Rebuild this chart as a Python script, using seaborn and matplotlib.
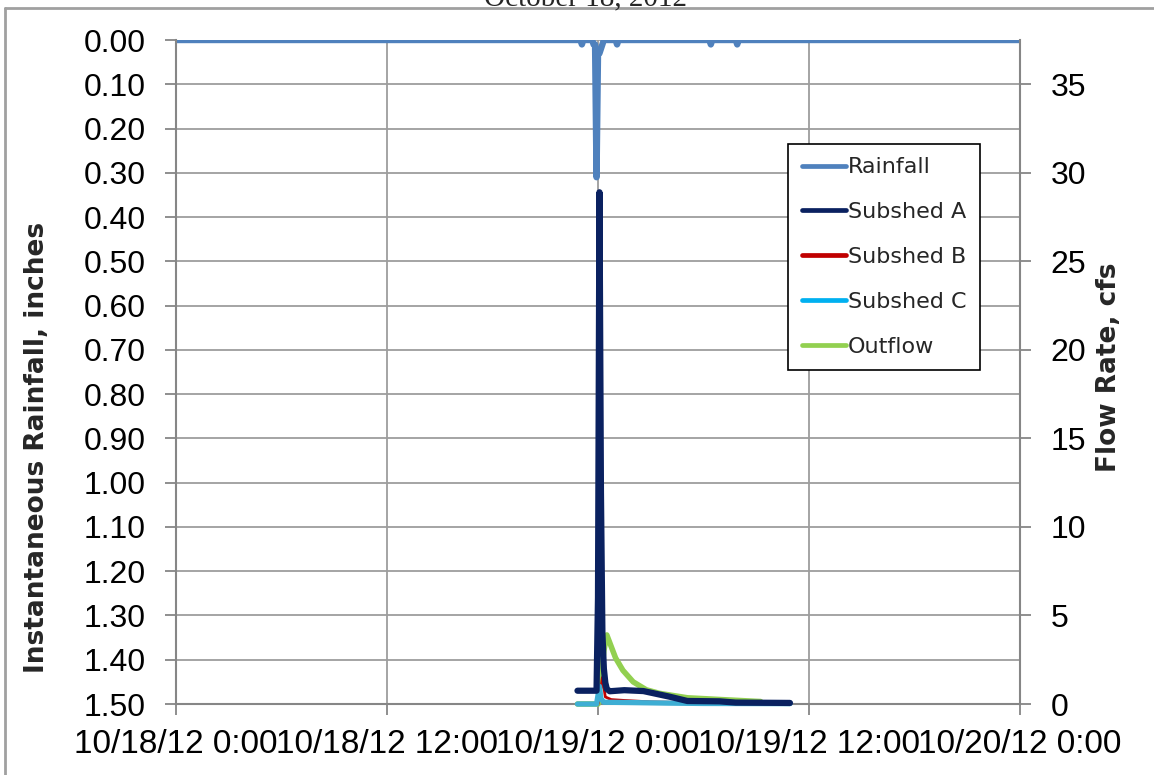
import matplotlib
matplotlib.use("Agg")
import matplotlib.pyplot as plt
from matplotlib.lines import Line2D
import seaborn as sns
import pandas as pd

# ---------------- data ----------------
rain_time = ["2012-10-18 00:00", "2012-10-18 23:00", "2012-10-18 23:05", "2012-10-18 23:10",
             "2012-10-18 23:40", "2012-10-18 23:45", "2012-10-18 23:50", "2012-10-18 23:55",
             "2012-10-19 00:00", "2012-10-19 00:05", "2012-10-19 00:10", "2012-10-19 00:15",
             "2012-10-19 00:20", "2012-10-19 01:00", "2012-10-19 01:05", "2012-10-19 01:10",
             "2012-10-19 06:20", "2012-10-19 06:25", "2012-10-19 06:30", "2012-10-19 07:50",
             "2012-10-19 07:55", "2012-10-19 08:00", "2012-10-20 00:00"]
rain_in = [0, 0, 0.01, 0, 0, 0.01, 0.01, 0.31, 0.03, 0.03, 0.02, 0.01, 0, 0, 0.01, 0,
           0, 0.01, 0, 0, 0.01, 0, 0]

a_time = ["2012-10-18 22:50", "2012-10-18 23:55", "2012-10-19 00:00", "2012-10-19 00:05",
          "2012-10-19 00:10", "2012-10-19 00:15", "2012-10-19 00:20", "2012-10-19 00:25",
          "2012-10-19 00:30", "2012-10-19 00:40", "2012-10-19 01:30", "2012-10-19 02:35",
          "2012-10-19 04:05", "2012-10-19 05:05", "2012-10-19 06:55", "2012-10-19 07:50",
          "2012-10-19 10:55"]
a_cfs = [0.75, 0.75, 6.0, 28.9, 12.0, 4.0, 2.0, 1.2, 0.85, 0.72, 0.78, 0.73, 0.41, 0.17,
         0.15, 0.08, 0.06]

b_time = ["2012-10-18 22:50", "2012-10-19 00:00", "2012-10-19 00:10", "2012-10-19 00:15",
          "2012-10-19 00:25", "2012-10-19 00:45", "2012-10-19 01:30", "2012-10-19 03:00",
          "2012-10-19 05:00", "2012-10-19 08:00", "2012-10-19 10:55"]
b_cfs = [0, 0, 0.9, 1.5, 0.4, 0.25, 0.2, 0.12, 0.08, 0.04, 0.02]

c_time = ["2012-10-18 22:50", "2012-10-18 23:55", "2012-10-19 00:05", "2012-10-19 00:10",
          "2012-10-19 00:20", "2012-10-19 02:00", "2012-10-19 04:00", "2012-10-19 06:00",
          "2012-10-19 10:55"]
c_cfs = [0, 0, 1.0, 0.3, 0.1, 0.08, 0.05, 0.03, 0.02]

out_time = ["2012-10-18 22:50", "2012-10-19 00:00", "2012-10-19 00:10", "2012-10-19 00:20",
            "2012-10-19 00:30", "2012-10-19 01:00", "2012-10-19 01:25", "2012-10-19 02:00",
            "2012-10-19 02:45", "2012-10-19 03:30", "2012-10-19 05:05", "2012-10-19 07:00",
            "2012-10-19 09:00", "2012-10-19 09:15"]
out_cfs = [0, 0, 1.5, 3.0, 3.9, 2.6, 1.9, 1.25, 0.8, 0.6, 0.35, 0.25, 0.15, 0.14]

x_tick_times = ["2012-10-18 00:00", "2012-10-18 12:00", "2012-10-19 00:00",
                "2012-10-19 12:00", "2012-10-20 00:00"]
x_tick_labels = ["10/18/12 0:00", "10/18/12 12:00", "10/19/12 0:00",
                 "10/19/12 12:00", "10/20/12 0:00"]
rain_ticks = [i / 10 for i in range(16)]
flow_ticks = [0, 5, 10, 15, 20, 25, 30, 35]

title = "October 18, 2012"
series_names = ["Rainfall", "Subshed A", "Subshed B", "Subshed C", "Outflow"]

# ---------------- style ----------------
sns.set_style("white")
plt.rcParams["font.family"] = ["Liberation Sans", "DejaVu Sans"]

W, H = 1154, 775
fig = plt.figure(figsize=(W / 100, H / 100), dpi=100)
ax = fig.add_axes([176 / W, 1 - 704 / H, (1020 - 176) / W, (704 - 40) / H])
ax2 = ax.twinx()

grid_c = "#9D9D9D"
spine_c = "#868686"
col_rain = "#4F81BD"
col_a = "#0A2160"
col_b = "#C00000"
col_c_line = "#3EAED4"
col_c_leg = "#00B0F0"
col_out = "#92D050"


def frame(t, v):
    return pd.DataFrame({"time": pd.to_datetime(t), "val": v})


sns.lineplot(data=frame(rain_time, rain_in), x="time", y="val", ax=ax, color=col_rain,
             linewidth=4.6, estimator=None, sort=False)
for ln in ax.get_lines():
    ln.set_solid_capstyle("round")
    ln.set_solid_joinstyle("round")

flow_specs = [
    (out_time, out_cfs, col_out, 4.0, 2),
    (b_time, b_cfs, col_b, 2.0, 3),
    (c_time, c_cfs, col_c_line, 3.8, 4),
    (a_time, a_cfs, col_a, 4.5, 5),
]
for t, v, col, lw, z in flow_specs:
    sns.lineplot(data=frame(t, v), x="time", y="val", ax=ax2, color=col, linewidth=lw,
                 estimator=None, sort=False, zorder=z)
for ln in ax2.get_lines():
    ln.set_solid_capstyle("round")
    ln.set_solid_joinstyle("round")
    ln.set_clip_on(False)

xt = pd.to_datetime(x_tick_times)
ax.set_xlim(xt[0], xt[-1])
ax.set_xticks(xt)
ax.set_xticklabels(x_tick_labels)

ax.set_ylim(1.5, 0)
ax.set_yticks(rain_ticks)
ax.set_yticklabels([f"{v:.2f}" for v in rain_ticks])
ax2.set_ylim(0, 37.5)
ax2.set_yticks(flow_ticks)
ax2.set_yticklabels([str(v) for v in flow_ticks])

ax.set_xlabel("")
ax.set_ylabel("")
ax2.set_ylabel("")

ax.grid(True, color=grid_c, linewidth=1.3)
ax.set_axisbelow(True)
ax2.grid(False)

for a in (ax, ax2):
    for s in a.spines.values():
        s.set_visible(False)
for a, side in ((ax, "left"), (ax, "bottom"), (ax2, "right")):
    a.spines[side].set_visible(True)
    a.spines[side].set_color(spine_c)
    a.spines[side].set_linewidth(1.5)

ax.tick_params(axis="y", which="both", left=True, direction="out", length=8, width=1.3,
               color=spine_c, labelsize=23, pad=14, labelcolor="black")
ax.tick_params(axis="x", which="both", bottom=True, direction="out", length=8, width=1.3,
               color=spine_c, labelsize=24, pad=10, labelcolor="black")
ax2.tick_params(axis="y", which="both", right=True, direction="out", length=8, width=1.3,
                color=spine_c, labelsize=23, pad=14, labelcolor="black")

# axis titles
fig.text(37 / W, 1 - 447 / H, "Instantaneous Rainfall, inches", rotation=90,
         ha="center", va="center", fontsize=19, fontweight="bold", family="DejaVu Sans")
fig.text(1109 / W, 1 - 367 / H, "Flow Rate, cfs", rotation=90,
         ha="center", va="center", fontsize=19, fontweight="bold", family="DejaVu Sans")

# title (cut off at the top in the reference)
fig.text(585 / W, 1 - 5 / H, title, ha="center", va="baseline", fontsize=21,
         family="Liberation Serif")

# chart-area border
fig.add_artist(Line2D([5 / W, 1.0], [1 - 8 / H, 1 - 8 / H], transform=fig.transFigure,
                      color="#A0A0A0", linewidth=2))
fig.add_artist(Line2D([5 / W, 5 / W], [0.0, 1 - 8 / H], transform=fig.transFigure,
                      color="#A0A0A0", linewidth=2))

# legend
handle_cols = [col_rain, col_a, col_b, col_c_leg, col_out]
handles = [Line2D([0], [0], color=c, linewidth=3.4, solid_capstyle="round") for c in handle_cols]
leg = ax2.legend(handles, series_names, loc="upper right",
                 bbox_to_anchor=((980 - 176) / 844, (704 - 144) / 664),
                 borderaxespad=0, frameon=True, fancybox=False, framealpha=1,
                 edgecolor="black", prop={"family": "DejaVu Sans", "size": 16},
                 handlelength=2.0, handletextpad=0.1, labelspacing=1.12, borderpad=0.6)
leg.get_frame().set_linewidth(1.2)
leg.set_zorder(10)

fig.savefig("out.png", dpi=100)
